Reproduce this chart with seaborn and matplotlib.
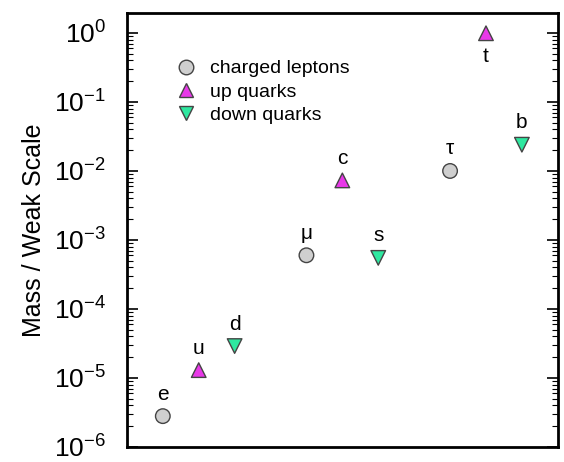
import matplotlib
matplotlib.use("Agg")
import matplotlib.pyplot as plt
import seaborn as sns
import pandas as pd
import numpy as np
from matplotlib.ticker import LogLocator, FixedLocator

names = ["e", "u", "d", "μ", "c", "s", "τ", "t", "b"]
xpos = [1, 2, 3, 5, 6, 7, 9, 10, 11]
values = [2.8e-6, 1.3e-5, 2.9e-5, 6.0e-4, 7.3e-3, 5.5e-4, 1.0e-2, 0.99, 2.4e-2]
groups = ["charged leptons", "up quarks", "down quarks",
          "charged leptons", "up quarks", "down quarks",
          "charged leptons", "up quarks", "down quarks"]
yticks = [1e-6, 1e-5, 1e-4, 1e-3, 1e-2, 1e-1, 1e0]
yticklabels = ["$10^{-6}$", "$10^{-5}$", "$10^{-4}$", "$10^{-3}$", "$10^{-2}$", "$10^{-1}$", "$10^{0}$"]

df = pd.DataFrame({"name": names, "x": xpos, "y": values, "group": groups})

sns.set_theme(style="white")
plt.rcParams['font.family'] = ['Liberation Sans', 'DejaVu Sans']
plt.rcParams['mathtext.fontset'] = 'custom'
plt.rcParams['mathtext.rm'] = 'Liberation Sans'
plt.rcParams['mathtext.it'] = 'Liberation Sans'
plt.rcParams['mathtext.bf'] = 'Liberation Sans:bold'
plt.rcParams['text.color'] = 'black'
plt.rcParams['axes.labelcolor'] = 'black'
plt.rcParams['ytick.color'] = 'black'

fig = plt.figure(figsize=(5.64, 4.62), dpi=100)
ax = fig.add_axes([0.225, 0.0325, 0.764, 0.9395])

order = ["charged leptons", "up quarks", "down quarks"]
palette = {"charged leptons": "#cfcfcf", "up quarks": "#e838e8", "down quarks": "#2ee8a0"}
markers = {"charged leptons": "o", "up quarks": "^", "down quarks": "v"}
sns.scatterplot(data=df, x="x", y="y", hue="group", style="group", hue_order=order,
                style_order=order, palette=palette, markers=markers, s=110,
                edgecolor="#444444", linewidth=1.0, ax=ax, zorder=3)
ax.set_yscale("log")
ax.set_xlim(0, 12)
ax.set_ylim(1e-6, 1.95)

for n, x, y in zip(names, xpos, values):
    if n == "t":
        ax.annotate(n, (x, y), xytext=(0, -10), textcoords="offset points",
                    ha="center", va="top", fontsize=15, color="black")
    else:
        ax.annotate(n, (x, y), xytext=(0, 9), textcoords="offset points",
                    ha="center", va="bottom", fontsize=15, color="black")

ax.set_xticks([])
ax.set_xlabel("")
ax.yaxis.set_major_locator(FixedLocator(yticks))
ax.set_yticklabels(yticklabels, fontsize=19)
ax.yaxis.set_minor_locator(LogLocator(base=10, subs=np.arange(2, 10), numticks=20))
ax.tick_params(axis="y", which="major", direction="in", length=8, width=1.2,
               left=True, right=True, pad=15, colors="black")
ax.tick_params(axis="y", which="minor", direction="in", length=4, width=0.8,
               left=True, right=True)
ax.set_ylabel("Mass / Weak Scale", fontsize=18, labelpad=6, color="black")
for sp in ax.spines.values():
    sp.set_linewidth(2)
    sp.set_color("black")

leg = ax.legend(loc="upper left", bbox_to_anchor=(0.075, 0.91), frameon=False,
                fontsize=14, handletextpad=0.2, labelspacing=0.3, borderaxespad=0,
                markerscale=1.0)
for t in leg.get_texts():
    t.set_color("black")

fig.savefig("out.png", dpi=100)
